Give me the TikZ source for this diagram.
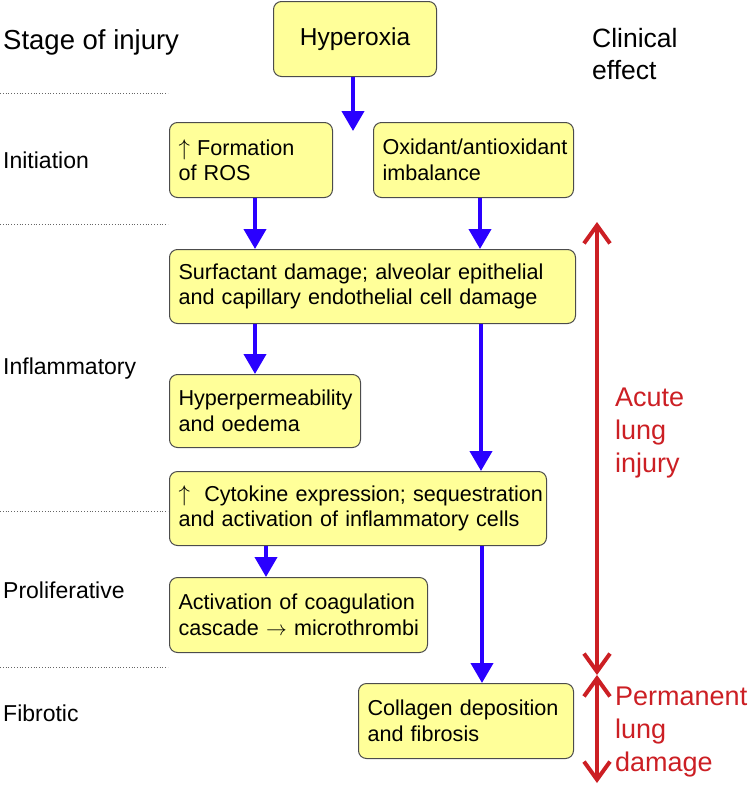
\documentclass[tikz,border=0pt]{standalone}
\usepackage{fontspec}
\setmainfont{Liberation Sans}
\usetikzlibrary{arrows.meta}

\definecolor{boxfill}{HTML}{FFFF99}
\definecolor{flowblue}{HTML}{2A00FF}
\definecolor{effectred}{HTML}{CC1F24}

% two unbreakable lines of a box
\newcommand{\twolines}[2]{\mbox{#1}\\\mbox{#2}}
\newcommand{\uparr}{\scalebox{1.1}{$\uparrow$}}

\begin{document}
\begin{tikzpicture}[x=1pt, y=-1pt,
    box/.style={draw=black!70, fill=boxfill, rounded corners=8pt, line width=1pt,
      anchor=north west, inner xsep=9pt, inner ysep=0pt, align=left,
      font=\fontsize{21.6}{25.5}\selectfont},
    stage/.style={anchor=base west, inner sep=0pt, font=\fontsize{23}{27}\selectfont},
    effect/.style={anchor=north west, inner sep=0pt, align=left, text=effectred,
      font=\fontsize{27}{33}\selectfont},
    flow/.style={draw=flowblue, line width=4pt, -{Triangle[width=22pt,length=20pt]}},
    span/.style={draw=effectred, line width=4pt,
      {Straight Barb[width=26pt,length=18pt]}-{Straight Barb[width=26pt,length=18pt]}},
    stageline/.style={draw=black!60, dotted, line width=0.8pt}]

  \useasboundingbox (0,0) rectangle (753,788);

  % Boxes
  \node[box, align=center, text width=145pt, minimum height=75pt,
    font=\fontsize{24.5}{28}\selectfont] (hyper) at (273,1) {Hyperoxia};
  \node[box, text width=145pt, minimum height=75pt] (ros) at (169,122)
    {\twolines{\uparr\ Formation}{of ROS}};
  \node[box, text width=182pt, minimum height=75pt] (oxid) at (373,122)
    {\twolines{Oxidant/antioxidant}{imbalance}};
  \node[box, text width=388pt, minimum height=74pt] (surf) at (169,249)
    {\twolines{Surfactant damage; alveolar epithelial}{and capillary endothelial cell damage}};
  \node[box, text width=173pt, minimum height=73pt] (perm) at (169,374)
    {\twolines{Hyperpermeability}{and oedema}};
  \node[box, text width=359pt, minimum height=74pt] (cyto) at (169,471)
    {\twolines{\uparr\ \ Cytokine expression; sequestration}{and activation of inflammatory cells}};
  \node[box, text width=240pt, minimum height=75pt] (coag) at (169,577)
    {\twolines{Activation of coagulation}{cascade $\rightarrow$ microthrombi}};
  \node[box, text width=197pt, minimum height=75pt] (coll) at (358,683)
    {\twolines{Collagen deposition}{and fibrosis}};

  % Blue arrows
  \coordinate (split) at (353,131);
  \draw[flow] (hyper.south -| split) -- (split);
  \draw[flow] (ros.south -| 255,0) -- (surf.north -| 255,0);
  \draw[flow] (oxid.south -| 480,0) -- (surf.north -| 480,0);
  \draw[flow] (surf.south -| 255,0) -- (perm.north -| 255,0);
  \draw[flow] (surf.south -| 481,0) -- (cyto.north -| 481,0);
  \draw[flow] (cyto.south -| 266,0) -- (coag.north -| 266,0);
  \draw[flow] (cyto.south -| 482,0) -- (coll.north -| 482,0);

  % Stages
  \node[stage, font=\fontsize{27.5}{31}\selectfont] (stagehead) at (3,49) {Stage of injury};
  \node[stage] (initiation) at (3,168) {Initiation};
  \node[stage] (inflam) at (3,374) {Inflammatory};
  \node[stage] (prolif) at (3,598) {Proliferative};
  \node[stage] (fibrotic) at (3,721) {Fibrotic};
  \foreach \y in {93,224,511,667}
    \draw[stageline] (0,\y) -- (168,\y);

  % Clinical effect
  \node[effect, text=black, font=\fontsize{26.5}{32}\selectfont] (effecthead) at (592,28)
    {Clinical\\effect};
  \coordinate (acutetop) at (597,222);
  \coordinate (acutebot) at (597,675);
  \coordinate (permbot) at (597,783);
  \draw[span] (acutetop) -- (acutebot);
  \draw[span] (acutebot) -- (permbot);
  \node[effect] (acute) at (615,388) {Acute\\lung\\injury};
  \node[effect] (permanent) at (615,687) {Permanent\\lung\\damage};

\end{tikzpicture}
\end{document}
